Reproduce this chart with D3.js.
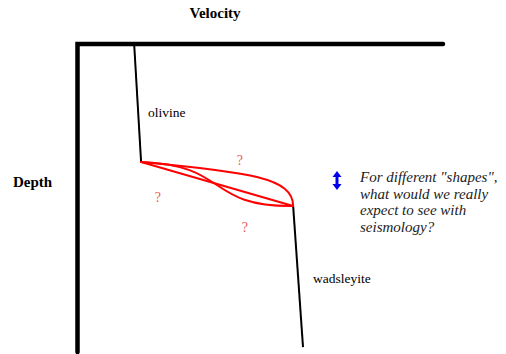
<!DOCTYPE html>
<html>
<head>
<meta charset="utf-8">
<script src="https://cdn.jsdelivr.net/npm/d3@7"></script>
<style>
  body { margin: 0; background: #fff; }
</style>
</head>
<body>
<div id="chart"></div>
<script>
// velocity / depth in arbitrary units (0-100 on both axes)
const olivine = [[15.5, 0], [17.4, 38.3]];
const wadsleyite = [[59.0, 52.6], [61.7, 98.4]];

// transition shapes: start, control 1, control 2, end
const shapeLinear = [[17.4, 38.3], [17.4, 38.3], [59.0, 52.6], [59.0, 52.6]];
const shapeS = [[17.4, 38.3], [41.7, 39.3], [35.0, 52.9], [59.0, 52.6]];
const shapeUpper = [[17.4, 38.3], [47.2, 41.6], [59.0, 43.5], [59.0, 52.6]];
const shapes = [shapeLinear, shapeS, shapeUpper];

const questionMarks = [[44.4, 39.3], [22.0, 51.3], [45.8, 61.0]];
const noteLines = ['For different "shapes",', "what would we really", "expect to see with", "seismology?"];

const width = 506, height = 354;
const margin = { top: 44, right: 63, bottom: 2, left: 77.5 };
const serif = "'Liberation Serif', 'DejaVu Serif', serif";

const svg = d3.select("#chart").append("svg")
  .attr("width", width)
  .attr("height", height)
  .attr("font-family", serif);

const x = d3.scaleLinear().domain([0, 100]).range([margin.left, width - margin.right]);
const y = d3.scaleLinear().domain([0, 100]).range([margin.top, height - margin.bottom]);

// axes: top (velocity) and left (depth), drawn as plain thick lines
svg.append("path")
  .attr("d", `M${x(100)},${y(0)}H${x(0)}V${y(100)}`)
  .attr("fill", "none")
  .attr("stroke", "#000")
  .attr("stroke-width", 4.5)
  .attr("stroke-linecap", "round");

svg.append("text")
  .attr("x", 215).attr("y", 18)
  .attr("text-anchor", "middle")
  .attr("font-size", 15).attr("font-weight", "bold")
  .text("Velocity");

svg.append("text")
  .attr("x", 13).attr("y", 187)
  .attr("font-size", 15).attr("font-weight", "bold")
  .text("Depth");

// mineral velocity profiles
const line = d3.line().x(d => x(d[0])).y(d => y(d[1]));
[olivine, wadsleyite].forEach(seg => {
  svg.append("path")
    .attr("d", line(seg))
    .attr("fill", "none")
    .attr("stroke", "#000")
    .attr("stroke-width", 2);
});

svg.append("text")
  .attr("x", 148).attr("y", 117)
  .attr("font-size", 13.5)
  .text("olivine");

svg.append("text")
  .attr("x", 313).attr("y", 283)
  .attr("font-size", 13.5)
  .text("wadsleyite");

// candidate transition shapes
shapes.forEach(s => {
  const p = d3.path();
  p.moveTo(x(s[0][0]), y(s[0][1]));
  p.bezierCurveTo(x(s[1][0]), y(s[1][1]), x(s[2][0]), y(s[2][1]), x(s[3][0]), y(s[3][1]));
  svg.append("path")
    .attr("d", p.toString())
    .attr("fill", "none")
    .attr("stroke", "#ff0000")
    .attr("stroke-width", 2)
    .attr("stroke-linecap", "round");
});

svg.selectAll("text.q")
  .data(questionMarks)
  .join("text")
  .attr("class", "q")
  .attr("x", d => x(d[0]))
  .attr("y", d => y(d[1]))
  .attr("text-anchor", "middle")
  .attr("font-size", 14)
  .attr("fill", "#f05a5a")
  .text("?");

// blue double-headed arrow
const ax = 337;
svg.append("line")
  .attr("x1", ax).attr("x2", ax)
  .attr("y1", 175).attr("y2", 186)
  .attr("stroke", "#0000ee")
  .attr("stroke-width", 3);
svg.append("path")
  .attr("d", `M${ax - 4.5},${177}L${ax},${171}L${ax + 4.5},${177}Z M${ax - 4.5},${184}L${ax},${190}L${ax + 4.5},${184}Z`)
  .attr("fill", "#0000ee");

svg.append("g")
  .selectAll("text")
  .data(noteLines)
  .join("text")
  .attr("x", 360)
  .attr("y", (d, i) => 182 + i * 16.5)
  .attr("font-size", 15)
  .attr("font-style", "italic")
  .attr("fill", "#222")
  .text(d => d);
</script>
</body>
</html>
